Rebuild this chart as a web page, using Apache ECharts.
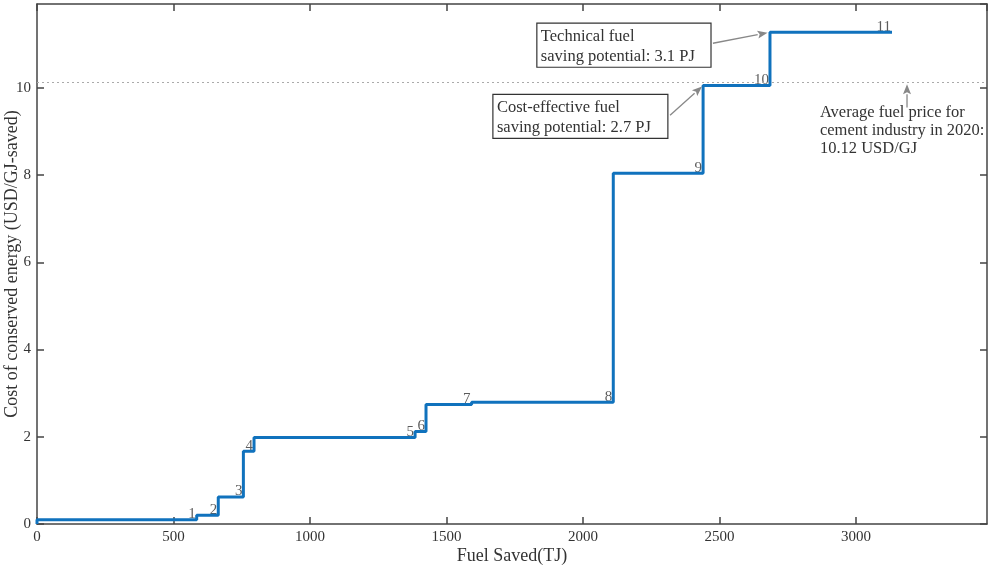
<!DOCTYPE html>
<html><head><meta charset="utf-8">
<script src="https://cdn.jsdelivr.net/npm/echarts@6/dist/echarts.min.js"></script>
<style>html,body{margin:0;padding:0;background:#fff}#c{width:988px;height:569px}</style>
</head><body><div id="c"></div>
<script>
// cumulative fuel saved boundaries (TJ) and cost of conserved energy per measure (USD/GJ)
const edges = [0, 585, 664, 756, 795, 1385, 1425, 1592, 2111, 2440, 2685, 3132];
const costs = [0.1, 0.2, 0.62, 1.67, 1.98, 2.12, 2.74, 2.79, 8.04, 10.05, 11.27];
const measureLabels = ['1','2','3','4','5','6','7','8','9','10','11'];
const avgPrice = 10.12;
const xTicks = [0, 500, 1000, 1500, 2000, 2500, 3000];
const yTicks = [0, 2, 4, 6, 8, 10];

const FONT = '"Liberation Serif","Times New Roman",serif';
const TXT = '#333';
const blue = '#1072bd';

const lineData = [[edges[0], 0]];
for (let i = 0; i < costs.length; i++) {
  lineData.push([edges[i], costs[i]]);
  lineData.push([edges[i + 1], costs[i]]);
}
const labelData = costs.map((c, i) => ({ value: [edges[i + 1], c], name: measureLabels[i] }));

const chart = echarts.init(document.getElementById('c'));
function axisCommon() {
  return {
    axisLine: { show: true, onZero: false, lineStyle: { color: '#444', width: 1.5 } },
    axisTick: { show: true, inside: true, length: 7, lineStyle: { color: '#444', width: 1.5 } },
    splitLine: { show: false }
  };
}
chart.setOption({
  animation: false,
  backgroundColor: '#fff',
  grid: { left: 37, right: 1, top: 4, bottom: 45, containLabel: false, outerBoundsMode: 'none' },
  xAxis: [
    Object.assign({
      type: 'value', min: 0, max: 3480, interval: 500, position: 'bottom',
      name: 'Fuel Saved(TJ)', nameLocation: 'middle', nameGap: 23, nameMoveOverlap: false,
      nameTextStyle: { fontFamily: FONT, fontSize: 18, color: TXT },
      axisLabel: { fontFamily: FONT, fontSize: 15, color: TXT, margin: 6, showMaxLabel: false,
        formatter: v => xTicks.indexOf(v) >= 0 ? String(v) : '' }
    }, axisCommon()),
    Object.assign({
      type: 'value', min: 0, max: 3480, interval: 500, position: 'top',
      axisLabel: { show: false }
    }, axisCommon())
  ],
  yAxis: [
    Object.assign({
      type: 'value', min: 0, max: 11.92, interval: 2, position: 'left',
      name: 'Cost of conserved energy (USD/GJ-saved)', nameLocation: 'middle', nameGap: 16, nameMoveOverlap: false,
      nameTextStyle: { fontFamily: FONT, fontSize: 18, color: TXT },
      axisLabel: { fontFamily: FONT, fontSize: 15, color: TXT, margin: 6, showMaxLabel: false,
        formatter: v => yTicks.indexOf(v) >= 0 ? String(v) : '' }
    }, axisCommon()),
    Object.assign({
      type: 'value', min: 0, max: 11.92, interval: 2, position: 'right',
      axisLabel: { show: false }
    }, axisCommon())
  ],
  series: [
    {
      type: 'line', data: lineData, symbol: 'none',
      lineStyle: { color: blue, width: 3 },
      markLine: {
        silent: true, symbol: 'none',
        lineStyle: { color: '#aaa', type: [2, 3], width: 1 },
        label: { show: false },
        data: [{ yAxis: avgPrice }]
      }
    },
    {
      type: 'scatter', data: labelData, symbolSize: 0,
      label: { show: true, position: 'top', distance: 0, align: 'right', offset: [-1, 2],
        formatter: p => p.name, fontFamily: FONT, fontSize: 15, color: '#333' }
    }
  ]
});

function px(x, y) { return chart.convertToPixel({ gridIndex: 0 }, [x, y]); }
const g = [];
function box(x0, y0, x1, y1, lines) {
  const a = px(x0, y0), b = px(x1, y1);
  g.push({ type: 'rect', shape: { x: a[0], y: a[1], width: b[0] - a[0], height: b[1] - a[1] },
    style: { fill: '#fff', stroke: '#333', lineWidth: 1.2 }, z: 10 });
  g.push({ type: 'text', x: a[0] + 4, y: a[1] + 3, z: 11,
    style: { text: lines, font: '16.5px ' + FONT, fill: TXT, lineHeight: 20 } });
}
function arrow(x0, y0, x1, y1) {
  const a = px(x0, y0), b = px(x1, y1);
  const ang = Math.atan2(b[1] - a[1], b[0] - a[0]);
  const L = 10, W = 4;
  const bx = b[0] - L * Math.cos(ang), by = b[1] - L * Math.sin(ang);
  g.push({ type: 'line', shape: { x1: a[0], y1: a[1], x2: bx, y2: by }, style: { stroke: '#888', lineWidth: 1.3 }, z: 12 });
  g.push({ type: 'polygon', z: 12, shape: { points: [
    [b[0], b[1]],
    [bx - W * Math.sin(ang), by + W * Math.cos(ang)],
    [bx + 2 * Math.cos(ang), by + 2 * Math.sin(ang)],
    [bx + W * Math.sin(ang), by - W * Math.cos(ang)]
  ] }, style: { fill: '#888' } });
}
box(1831, 11.48, 2469, 10.47, 'Technical fuel\nsaving potential: 3.1 PJ');
arrow(2476, 11.02, 2676, 11.26);
box(1670, 9.85, 2311, 8.84, 'Cost-effective fuel\nsaving potential: 2.7 PJ');
arrow(2319, 9.37, 2436, 10.03);
const t = px(2868, 9.63);
g.push({ type: 'text', x: t[0], y: t[1], z: 11,
  style: { text: 'Average fuel price for\ncement industry in 2020:\n10.12 USD/GJ', font: '16.5px ' + FONT, fill: TXT, lineHeight: 18 } });
arrow(3187, 9.55, 3187, 10.08);
chart.setOption({ graphic: g });
</script></body></html>
